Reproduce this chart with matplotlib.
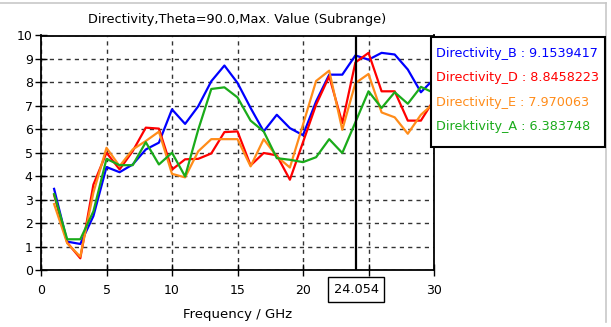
import numpy as np
import matplotlib
matplotlib.use("Agg")
import matplotlib.pyplot as plt
from matplotlib.lines import Line2D
from matplotlib.patches import Rectangle

# frequency points (GHz)
freq = list(range(1, 31))

# directivity curves
dir_B = [3.46, 1.21, 1.11, 2.3, 4.39, 4.17, 4.5, 5.14, 5.43, 6.85,
         6.23, 6.98, 8.05, 8.72, 7.98, 6.91, 5.91, 6.62, 6.05, 5.75,
         7.19, 8.33, 8.33, 9.15, 8.97, 9.26, 9.19, 8.55, 7.58, 8.15]
dir_D = [3.2, 1.17, 0.5, 3.64, 5.0, 4.29, 5.07, 6.07, 6.03, 4.28,
         4.72, 4.74, 4.97, 5.88, 5.91, 4.46, 4.99, 4.89, 3.85, 5.45,
         7.05, 8.26, 6.27, 8.85, 9.26, 7.62, 7.62, 6.37, 6.37, 7.26]
dir_E = [2.81, 1.14, 0.57, 3.3, 5.21, 4.43, 5.14, 5.5, 5.9, 4.1,
         3.95, 5.06, 5.58, 5.58, 5.58, 4.42, 5.58, 4.84, 4.37, 6.2,
         8.06, 8.5, 5.98, 7.97, 8.36, 6.72, 6.51, 5.81, 6.62, 7.12]
dir_A = [3.24, 1.31, 1.31, 2.5, 4.74, 4.47, 4.47, 5.45, 4.5, 5.0,
         3.99, 5.98, 7.72, 7.79, 7.36, 6.37, 5.91, 4.77, 4.7, 4.6,
         4.81, 5.58, 4.99, 6.3, 7.62, 6.91, 7.58, 7.09, 7.81, 7.55]

labels = ["Directivity_B : 9.1539417", "Directivity_D : 8.8458223",
          "Directivity_E : 7.970063", "Direktivity_A : 6.383748"]
colors = ["#0000ff", "#ff0000", "#ff8c1a", "#1aab1a"]

marker_x = 24.054
xticks = [0, 5, 10, 15, 20, 25, 30]
xticklabels = ["0", "5", "10", "15", "20", "", "30"]

plt.rcParams['font.family'] = ['DejaVu Sans']

W, H = 611, 327
fig = plt.figure(figsize=(W/100, H/100), dpi=100)
ax = fig.add_axes([41/W, 1 - 270/H, (434 - 41)/W, (270 - 35.5)/H])

series = [dir_B, dir_D, dir_E, dir_A]
for vals, c, lab in zip(series, colors, labels):
    ax.plot(freq, vals, "-", color=c, lw=1.6, label=lab)

ax.set_xlim(0, 30)
ax.set_ylim(0, 10)
ax.set_xticks(xticks)
ax.set_xticklabels(xticklabels)
ax.set_yticks(range(11))
ax.tick_params(direction="inout", length=8, width=1, labelsize=9)
ax.tick_params(axis="x", pad=6)
ax.tick_params(axis="y", pad=2)
ax.grid(True, color="#333333", linestyle=(0, (3, 3)), linewidth=1)
for s in ax.spines.values():
    s.set_linewidth(1.3)

ax.set_title("Directivity,Theta=90.0,Max. Value (Subrange)", fontsize=9.3, pad=9)
ax.set_xlabel("Frequency / GHz", fontsize=9.5, labelpad=8)

# marker line and its readout box
ax.axvline(marker_x, color="black", lw=1.6)
ax.text(marker_x, -0.083, "24.054", transform=ax.get_xaxis_transform(),
        ha="center", va="center", fontsize=9.3,
        bbox=dict(boxstyle="square,pad=0.45", fc="white", ec="black", lw=1))

# value box at the marker (drawn by hand: CST style legend)
fig.add_artist(Rectangle((431/W, 1 - 147/H), 174/W, 110/H, transform=fig.transFigure,
                         fc="white", ec="black", lw=1.5, zorder=5))
for i, (lab, c) in enumerate(zip(labels, colors)):
    fig.text(436/W, 1 - (53 + 24.6*i)/H, lab, color=c, fontsize=9.2,
             ha="left", va="center", zorder=6)

# window frame edges
fig.add_artist(Line2D([0, 606/W], [1 - 2.7/H] * 2, color="#c8c8c8", lw=1.2))
fig.add_artist(Line2D([606/W] * 2, [1 - 2.7/H, 1 - 322/H], color="#c8c8c8", lw=1.2))

fig.savefig("out.png", dpi=100)
